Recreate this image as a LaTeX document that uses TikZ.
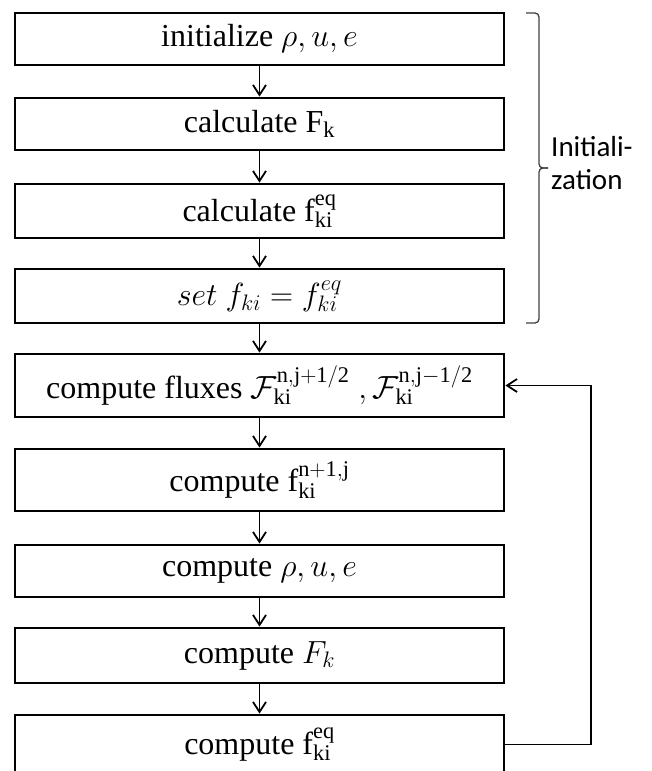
\RequirePackage{fix-cm}
\documentclass[tikz,border=0pt]{standalone}
\usepackage{fontspec}
\setmainfont{Liberation Serif}
\newfontfamily\bracefont{Carlito}
\usetikzlibrary{arrows.meta}

\begin{document}
\begin{tikzpicture}[x=1pt,y=-1pt,
  stepbox/.style={draw=black, line width=2.8pt, minimum width=489pt, inner sep=0pt,
    align=center, font=\fontsize{32}{38}\selectfont},
  flow/.style={line width=1.8pt, -{Straight Barb[length=10pt,width=13pt,line width=1.8pt]}},
  bracestroke/.style={draw=black!75, line width=1.3pt, rounded corners=4pt},
  sidenote/.style={font=\bracefont\fontsize{29}{33}\selectfont, align=left, inner sep=0pt, anchor=west}
]
\useasboundingbox (0,0) rectangle (651,771);

% process steps
\node[stepbox, minimum height=52pt] (b1) at (259.5,39)    {initialize $\rho, u, e$};
\node[stepbox, minimum height=52pt] (b2) at (259.5,124)   {calculate $\mathrm{F}_{\mathrm{k}}$};
\node[stepbox, minimum height=54pt] (b3) at (259.5,211)   {calculate $\mathrm{f}_{\mathrm{ki}}^{\mathrm{eq}}$};
\node[stepbox, minimum height=54pt] (b4) at (259.5,296)   {$set\ f_{ki} = f_{ki}^{eq}$};
\node[stepbox, minimum height=63pt] (b5) at (259.5,385.5) {compute fluxes $\mathcal{F}_{\mathrm{ki}}^{\mathrm{n,j+1/2}}\;,\mathcal{F}_{\mathrm{ki}}^{\mathrm{n,j-1/2}}$};
\node[stepbox, minimum height=62pt] (b6) at (259.5,480)   {compute $\mathrm{f}_{\mathrm{ki}}^{\mathrm{n+1,j}}$};
\node[stepbox, minimum height=52pt] (b7) at (259.5,571)   {compute $\rho, u, e$};
\node[stepbox, minimum height=55pt] (b8) at (259.5,655.5) {compute $F_k$};
\node[stepbox, minimum height=59pt] (b9) at (259.5,744.5) {compute $\mathrm{f}_{\mathrm{ki}}^{\mathrm{eq}}$};

% downward connectors
\foreach \a/\b in {b1/b2, b2/b3, b3/b4, b4/b5, b5/b6, b6/b7, b7/b8, b8/b9}
  \draw[flow] (\a.south) -- (\b.north);

% time loop back to the flux step
\coordinate (loopx) at (591,560);
\draw[flow] (b9.east) -| (loopx) |- (b5.east);

% initialization brace and label
\coordinate (bracetop) at (526,13);
\coordinate (bracebot) at (526,323);
\coordinate (bracetip) at (548,168);
\draw[bracestroke] (bracetop) -- (539,13) -- (539,168) -- (bracetip);
\draw[bracestroke] (bracetip) -- (539,168) -- (539,323) -- (bracebot);
\node[sidenote] (initlabel) at (551,163) {Initiali-\\zation};
\end{tikzpicture}
\end{document}
